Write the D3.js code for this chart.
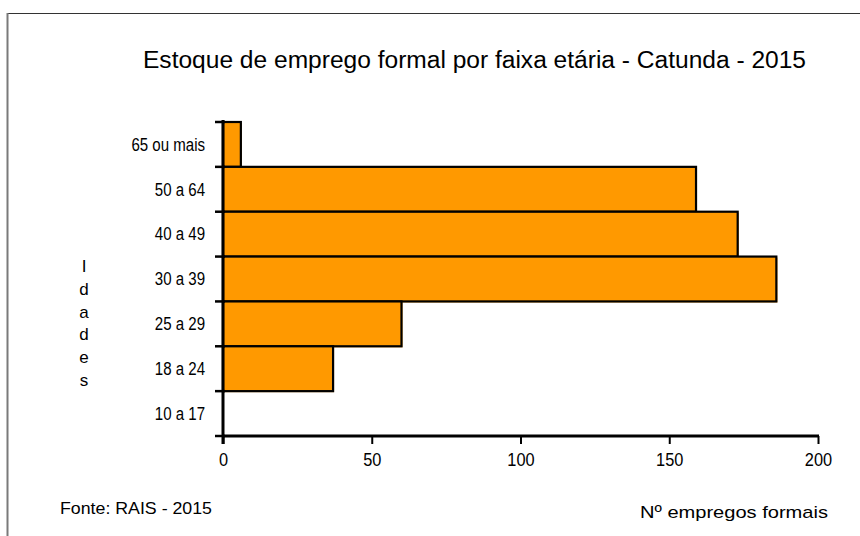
<!DOCTYPE html>
<html>
<head>
<meta charset="utf-8">
<script src="https://cdn.jsdelivr.net/npm/d3@7"></script>
<style>
  html, body { margin: 0; padding: 0; background: #fff; }
  svg { display: block; }
  text { font-family: "Liberation Sans", Arial, sans-serif; fill: #000; }
</style>
</head>
<body>
<svg id="chart" width="860" height="536"></svg>
<script>
// ---- data ----
const categories = ["65 ou mais", "50 a 64", "40 a 49", "30 a 39", "25 a 29", "18 a 24", "10 a 17"];
const values = [6, 159, 173, 186, 60, 37, 0];
const xTicks = [0, 50, 100, 150, 200];
const title = "Estoque de emprego formal por faixa etária - Catunda - 2015";
const yTitle = ["I", "d", "a", "d", "e", "s"];
const xTitle = "Nº empregos formais";
const source = "Fonte: RAIS - 2015";

const svg = d3.select("#chart");
svg.append("rect").attr("width", 860).attr("height", 536).attr("fill", "#fff");

// frame
svg.append("line").attr("x1", 7).attr("x2", 860).attr("y1", 13.5).attr("y2", 13.5)
  .attr("stroke", "#333").attr("stroke-width", 1.2);
svg.append("line").attr("x1", 7.5).attr("x2", 7.5).attr("y1", 13).attr("y2", 536)
  .attr("stroke", "#7a7a7a").attr("stroke-width", 2);

const x = d3.scaleLinear().domain([0, 200]).range([223, 818]);
const y = d3.scaleBand().domain(categories).range([122, 436]).padding(0);

// title
svg.append("text").attr("x", 474.5).attr("y", 68).attr("text-anchor", "middle")
  .style("font-size", "23px").attr("textLength", 663).attr("lengthAdjust", "spacingAndGlyphs")
  .text(title);

// bars (orange halo then outlined bar)
const data = categories.map((c, i) => ({ c, v: values[i] })).filter(d => d.v > 0);
svg.append("g").selectAll("rect").data(data).join("rect")
  .attr("x", x(0) + 1).attr("y", d => y(d.c) + 1)
  .attr("width", d => x(d.v) - x(0)).attr("height", y.bandwidth())
  .attr("fill", "#FF9900");
svg.append("g").selectAll("rect").data(data).join("rect")
  .attr("x", x(0)).attr("y", d => y(d.c))
  .attr("width", d => x(d.v) - x(0)).attr("height", y.bandwidth())
  .attr("fill", "#FF9900").attr("stroke", "#000").attr("stroke-width", 2.2);

// y axis labels
const yAxis = svg.append("g").attr("transform", `translate(${x(0)},0)`)
  .call(d3.axisLeft(y).tickSize(0).tickPadding(18));
yAxis.attr("font-size", null).attr("font-family", null);
yAxis.select(".domain").remove();
yAxis.selectAll("text").style("font-size", "17.5px").attr("fill", "#000")
  .attr("dy", "0.36em")
  .each(function () {
    const n = this.getComputedTextLength();
    d3.select(this).attr("textLength", n * 0.86).attr("lengthAdjust", "spacingAndGlyphs");
  });

// y ticks at band boundaries
const bounds = categories.map(c => y(c)).concat([y.range()[1]]);
svg.append("g").selectAll("line").data(bounds).join("line")
  .attr("x1", x(0) - 8).attr("x2", x(0) + 2)
  .attr("y1", d => d).attr("y2", d => d)
  .attr("stroke", "#000").attr("stroke-width", 2.5);

// x axis
const xAxis = svg.append("g").attr("transform", `translate(0,${y.range()[1]})`)
  .call(d3.axisBottom(x).tickValues(xTicks).tickSize(8).tickPadding(9));
xAxis.attr("font-size", null).attr("font-family", null);
xAxis.select(".domain").remove();
xAxis.selectAll("line").attr("stroke", "#000").attr("stroke-width", 2);
xAxis.selectAll("text").style("font-size", "19px").attr("fill", "#000")
  .each(function () {
    const n = this.getComputedTextLength();
    d3.select(this).attr("textLength", n * 0.86).attr("lengthAdjust", "spacingAndGlyphs");
  });

// axis lines
svg.append("line").attr("x1", x(0)).attr("x2", x(0)).attr("y1", y.range()[0] - 2).attr("y2", y.range()[1] + 8)
  .attr("stroke", "#000").attr("stroke-width", 3);
svg.append("line").attr("x1", x(0)).attr("x2", x(200) + 1).attr("y1", y.range()[1]).attr("y2", y.range()[1])
  .attr("stroke", "#000").attr("stroke-width", 3);

// y title (stacked letters)
svg.append("g").selectAll("text").data(yTitle).join("text")
  .attr("x", 84).attr("y", (d, i) => 272 + i * 22.8)
  .attr("text-anchor", "middle").style("font-size", "17px").text(d => d);

// x title and source
svg.append("text").attr("x", 640).attr("y", 518).style("font-size", "17px")
  .attr("textLength", 188).attr("lengthAdjust", "spacingAndGlyphs").text(xTitle);
svg.append("text").attr("x", 60).attr("y", 514).style("font-size", "17px")
  .attr("textLength", 152).attr("lengthAdjust", "spacingAndGlyphs").text(source);
</script>
</body>
</html>
